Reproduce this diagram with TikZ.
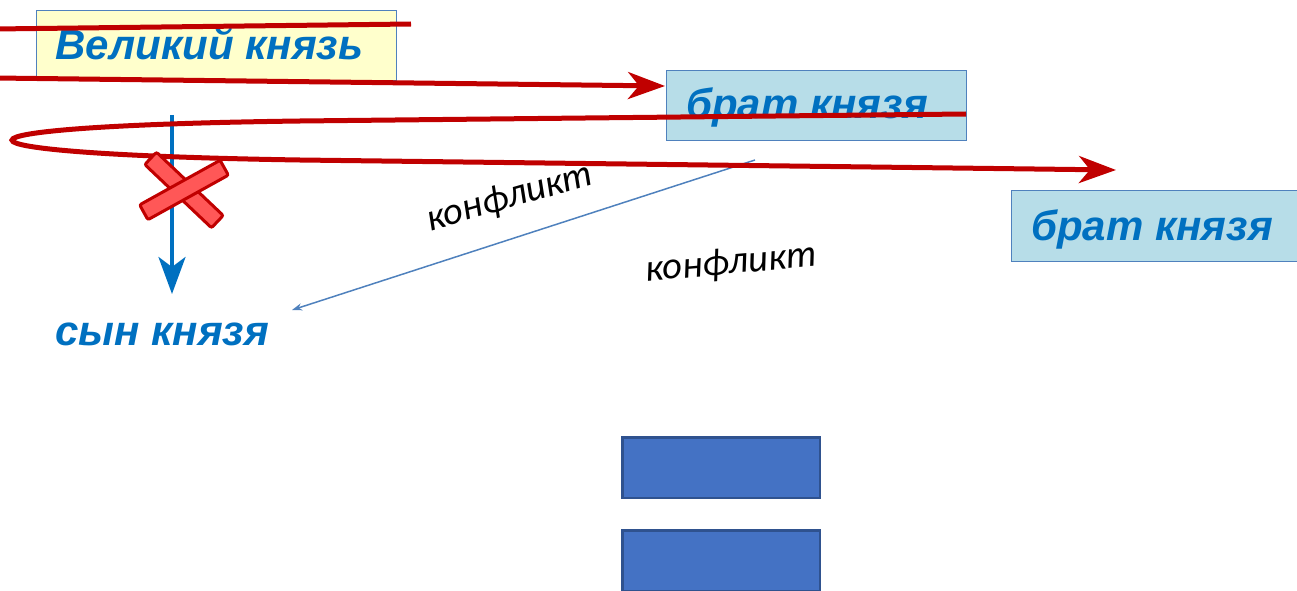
\documentclass[tikz,border=0pt]{standalone}
\usepackage{fontspec}
\setmainfont{Liberation Sans}
\newfontfamily\carlito{Carlito}
\usetikzlibrary{arrows.meta}
\definecolor{tblue}{HTML}{0070C0}
\definecolor{boxline}{HTML}{4F81BD}
\definecolor{yfill}{HTML}{FFFFCC}
\definecolor{bfill}{HTML}{B7DDE8}
\definecolor{tred}{HTML}{C00000}
\definecolor{xfill}{HTML}{FF5757}
\definecolor{rfill}{HTML}{4472C4}
\definecolor{rline}{HTML}{2F528F}
\tikzset{
  box/.style={draw=boxline, line width=1.2pt, anchor=north west, inner sep=0pt},
  btext/.style={text=tblue, font=\bfseries\itshape\fontsize{42}{44}\selectfont, anchor=base west, inner sep=0pt},
  redline/.style={draw=tred, line width=5pt},
  redarrow/.style={redline, -{Stealth[length=37pt,width=27pt,inset=11pt]}},
  xbar/.style={draw=tred, fill=xfill, line width=3pt, minimum width=92pt, minimum height=17pt, rounded corners=2pt, inner sep=0pt},
  conf/.style={font=\carlito\itshape\fontsize{38.5}{40}\selectfont, inner sep=0pt},
  bluerect/.style={draw=rline, fill=rfill, line width=2.5pt, minimum width=197.5pt, minimum height=60.5pt, anchor=north west, inner sep=0pt}
}
\begin{document}
\begin{tikzpicture}[x=1pt,y=-1pt]
\useasboundingbox (0,0) rectangle (1297,591);
% boxes
\node[box, fill=yfill, minimum width=360pt, minimum height=70pt] (vk) at (36,10) {};
\node[btext] (vkt) at (55,60) {Великий князь};
\node[box, fill=bfill, minimum width=300pt, minimum height=70pt] (b1) at (666,70) {};
\node[btext] (b1t) at (686,118) {брат князя};
\node[box, fill=bfill, minimum width=300pt, minimum height=71pt] (b2) at (1011,190) {};
\node[btext] (b2t) at (1031,240) {брат князя};
\node[btext] (son) at (55,345) {сын князя};
% blue rects
\node[bluerect] (r1) at (621.25,436.25) {};
\node[bluerect] (r2) at (621.25,529.25) {};
% blue vertical arrow
\coordinate (ba) at (172,115);
\coordinate (bb) at (172,294);
\draw[draw=tblue, line width=4pt, -{Stealth[length=37pt,width=27pt,inset=10pt]}] (ba) -- (bb);
% thin blue arrow
\coordinate (ta) at (755,160);
\coordinate (tb) at (292,310);
\draw[draw=boxline, line width=1.5pt, -{Stealth[length=10pt,width=7pt,inset=3pt]}] (ta) -- (tb);
% red lines
\coordinate (l1a) at (-5,29);
\coordinate (l1b) at (411,24);
\draw[redline] (l1a) -- (l1b);
\coordinate (l2a) at (-5,78);
\coordinate (l2b) at (665,86);
\draw[redarrow] (l2a) -- (l2b);
\coordinate (l3a) at (966,114);
\coordinate (l3b) at (300,121);
\coordinate (l3c) at (300,160);
\coordinate (l3d) at (1116,170);
\draw[redarrow] (l3a) -- (l3b) .. controls (-84,126) and (-84,154) .. (l3c) -- (l3d);
% red X
\node[xbar, rotate=-43.5] (x1) at (184,190) {};
\node[xbar, rotate=29] (x2) at (184,190) {};
% labels
\node[conf, rotate=16] (c1) at (510,198) {конфликт};
\node[conf, rotate=5] (c2) at (731,264) {конфликт};
\end{tikzpicture}
\end{document}
